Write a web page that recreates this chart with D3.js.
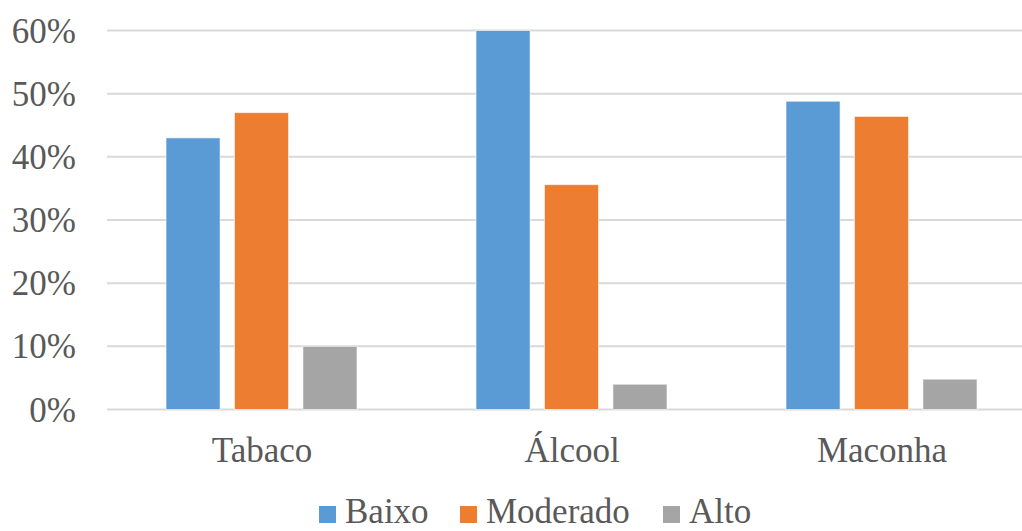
<!DOCTYPE html>
<html><head><meta charset="utf-8">
<script src="https://cdn.jsdelivr.net/npm/d3@7"></script>
<style>body{margin:0;background:#fff;overflow:hidden}svg{display:block}</style>
</head><body><svg id="c" width="1022" height="531"></svg>
<script>
const categories = ["Tabaco", "Álcool", "Maconha"];
const seriesNames = ["Baixo", "Moderado", "Alto"];
const baixo = [0.43, 0.60, 0.488];
const moderado = [0.47, 0.356, 0.464];
const alto = [0.10, 0.04, 0.048];
const yTicks = [0, 0.1, 0.2, 0.3, 0.4, 0.5, 0.6];
const colors = ["#5B9BD5", "#ED7D31", "#A5A5A5"];
const seriesValues = [baixo, moderado, alto];

const svg = d3.select("#c");
const font = '"Liberation Serif"';
const fsize = 35;
const textColor = "#595959";

const x0 = d3.scaleBand().domain(categories).range([107, 1037]).padding(0);
const x1 = d3.scaleBand().domain(seriesNames).range([59, 250]).paddingInner(0.21).paddingOuter(0);
const y = d3.scaleLinear().domain([0, 0.6]).range([409.5, 30.5]);

// gridlines
svg.append("g").selectAll("line").data(yTicks).join("line")
  .attr("x1", 107).attr("x2", 1022)
  .attr("y1", d => y(d)).attr("y2", d => y(d))
  .attr("stroke", "#D9D9D9").attr("stroke-width", 2);

// y axis labels
const yAxis = d3.axisLeft(y).tickValues(yTicks).tickFormat(d3.format(".0%")).tickSize(0).tickPadding(0);
const ya = svg.append("g").attr("transform", "translate(76,0)").call(yAxis)
  .attr("font-family", font).attr("font-size", fsize);
ya.select(".domain").remove();
ya.selectAll("text").attr("fill", textColor).attr("dy", "0.33em");

// bars
const rows = categories.map((c, i) => ({cat: c, vals: seriesNames.map((s, j) => ({s, v: seriesValues[j][i], color: colors[j]}))}));
const groups = svg.append("g").selectAll("g").data(rows).join("g")
  .attr("transform", d => `translate(${x0(d.cat)},0)`);
groups.selectAll("rect").data(d => d.vals).join("rect")
  .attr("x", d => x1(d.s)).attr("width", x1.bandwidth())
  .attr("y", d => y(d.v)).attr("height", d => y(0) - y(d.v))
  .attr("fill", d => d.color).attr("stroke", "#ffffff").attr("stroke-opacity", 0.6).attr("stroke-width", 1);

// x axis labels
const xAxis = d3.axisBottom(x0).tickSize(0).tickPadding(0);
const xa = svg.append("g").attr("transform", "translate(0,462)").call(xAxis)
  .attr("font-family", font).attr("font-size", fsize);
xa.select(".domain").remove();
xa.selectAll("text").attr("fill", textColor).attr("dy", "0");

// legend
const legendX = [319, 460, 663];
const lg = svg.append("g").attr("font-family", font).attr("font-size", fsize)
  .selectAll("g").data(seriesNames).join("g")
  .attr("transform", (d, i) => `translate(${legendX[i]},0)`);
lg.append("rect").attr("x", 0).attr("y", 506).attr("width", 17).attr("height", 17)
  .attr("fill", (d, i) => colors[i]);
lg.append("text").attr("x", 26).attr("y", 523).text(d => d).attr("fill", textColor);
</script></body></html>
